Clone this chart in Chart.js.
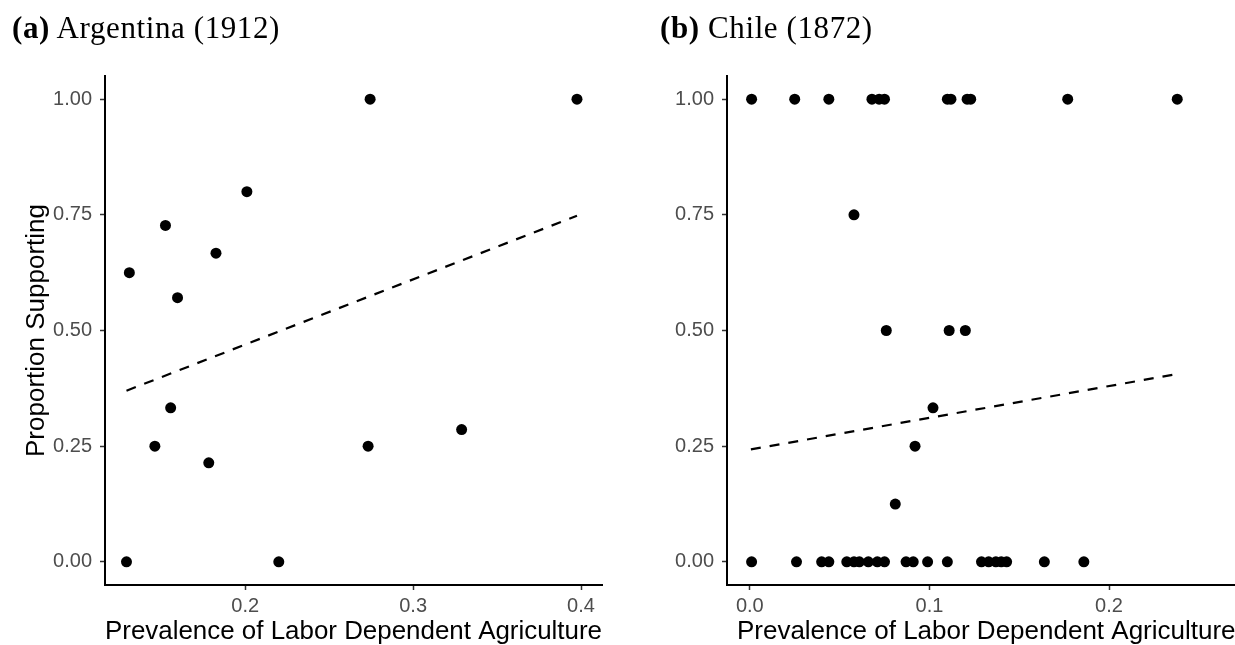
<!DOCTYPE html>
<html>
<head>
<meta charset="utf-8">
<script src="https://cdn.jsdelivr.net/npm/chart.js@4.4.1/dist/chart.umd.min.js"></script>
<style>
  body { margin: 0; background: #fff; overflow: hidden; width: 1235px; height: 645px; position: relative; }
  .painel { position: absolute; top: 0; height: 645px; }
  .etiqueta { position: absolute; top: 10px; font-family: "Liberation Serif", serif; font-size: 31px; color: #000; white-space: nowrap; letter-spacing: 0.6px; }
</style>
</head>
<body>
<div class="painel" style="left:0; width:618px"><canvas id="graficoArgentina"></canvas></div>
<div class="painel" style="left:620px; width:631px"><canvas id="graficoChile"></canvas></div>
<div class="etiqueta" style="left:12px"><b>(a)</b> Argentina (1912)</div>
<div class="etiqueta" style="left:660px"><b>(b)</b> Chile (1872)</div>
<script>
// Argentina (1912)
const argX = [0.1293, 0.1310, 0.1462, 0.1525, 0.1556, 0.1597, 0.1783, 0.1826, 0.2010, 0.2200, 0.2732, 0.2744, 0.3289, 0.3976];
const argY = [0, 0.625, 0.25, 0.727, 0.333, 0.571, 0.214, 0.667, 0.8, 0, 0.25, 1, 0.286, 1];
const argFitX = [0.1293, 0.3976];
const argFitY = [0.370, 0.748];
const argXTicks = [0.2, 0.3, 0.4];

// Chile (1872)
const chileX = [
  0.001, 0.025, 0.044, 0.068, 0.072, 0.075, 0.110, 0.112, 0.121, 0.123, 0.177, 0.238,
  0.058, 0.076, 0.111, 0.120, 0.102, 0.092, 0.081,
  0.001, 0.026, 0.040, 0.044, 0.054, 0.058, 0.061, 0.066, 0.071, 0.075, 0.087, 0.091,
  0.099, 0.110, 0.129, 0.133, 0.137, 0.140, 0.143, 0.164, 0.186
];
const chileY = [
  1, 1, 1, 1, 1, 1, 1, 1, 1, 1, 1, 1,
  0.75, 0.5, 0.5, 0.5, 0.333, 0.25, 0.125,
  0, 0, 0, 0, 0, 0, 0, 0, 0, 0, 0, 0,
  0, 0, 0, 0, 0, 0, 0, 0, 0
];
const chileFitX = [0.0006, 0.238];
const chileFitY = [0.243, 0.406];
const chileXTicks = [0.0, 0.1, 0.2];

const yTicks = [0, 0.25, 0.5, 0.75, 1];
const tituloX = "Prevalence of Labor Dependent Agriculture";
const tituloY = "Proportion Supporting";

function pares(xs, ys) {
  return xs.map((x, i) => ({ x: x, y: ys[i] }));
}

function criarGrafico(id, xs, ys, fitX, fitY, xMin, xMax, xTicks, larguraY, comTituloY, padRight) {
  const ctx = document.getElementById(id);
  new Chart(ctx, {
    type: "scatter",
    data: {
      datasets: [
        {
          data: pares(xs, ys),
          pointRadius: 5.5,
          pointBorderWidth: 0,
          pointBackgroundColor: "#000",
          pointHoverRadius: 5.5,
        },
        {
          type: "line",
          data: pares(fitX, fitY),
          borderColor: "#000",
          borderWidth: 2.2,
          borderDash: [10, 9],
          pointRadius: 0,
          tension: 0,
          fill: false,
        },
      ],
    },
    options: {
      responsive: true,
      maintainAspectRatio: false,
      animation: false,
      events: [],
      layout: { padding: { top: 76, right: padRight, left: 0, bottom: 0 } },
      plugins: { legend: { display: false }, tooltip: { enabled: false } },
      scales: {
        x: {
          type: "linear",
          min: xMin,
          max: xMax,
          afterBuildTicks: (s) => { s.ticks = xTicks.map((v) => ({ value: v })); },
          afterFit: (s) => { s.height = 60; },
          ticks: {
            color: "#4d4d4d",
            font: { family: "Liberation Sans", size: 20 },
            padding: 4,
            maxRotation: 0,
            callback: (v) => Number(v).toFixed(1),
          },
          grid: { drawOnChartArea: false, tickLength: 5, tickColor: "#333", tickWidth: 1.5 },
          border: { color: "#000", width: 2 },
          title: {
            display: true,
            text: tituloX,
            color: "#000",
            font: { family: "Liberation Sans", size: 26, lineHeight: 1 },
            padding: { top: 0, bottom: 0 },
          },
        },
        y: {
          type: "linear",
          min: -0.05,
          max: 1.05,
          afterBuildTicks: (s) => { s.ticks = yTicks.map((v) => ({ value: v })); },
          afterFit: (s) => { s.width = larguraY; },
          ticks: {
            color: "#4d4d4d",
            font: { family: "Liberation Sans", size: 20 },
            padding: 8,
            callback: (v) => Number(v).toFixed(2),
          },
          grid: { drawOnChartArea: false, tickLength: 5, tickColor: "#333", tickWidth: 1.5 },
          border: { color: "#000", width: 2 },
          title: {
            display: comTituloY,
            text: tituloY,
            color: "#000",
            font: { family: "Liberation Sans", size: 26, lineHeight: 1 },
            padding: { top: 24, bottom: 0 },
          },
        },
      },
    },
  });
}

criarGrafico("graficoArgentina", argX, argY, argFitX, argFitY, 0.1165, 0.4125, argXTicks, 105, true, 16);
criarGrafico("graficoChile", chileX, chileY, chileFitX, chileFitY, -0.0127, 0.276, chileXTicks, 107, false, 0);
</script>
</body>
</html>
